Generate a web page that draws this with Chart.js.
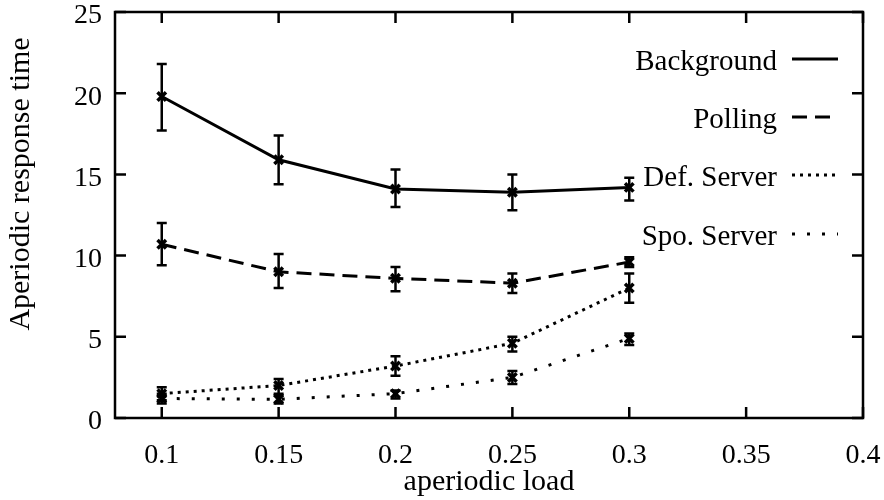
<!DOCTYPE html>
<html>
<head>
<meta charset="utf-8">
<script src="https://cdn.jsdelivr.net/npm/chart.js@4.4.1/dist/chart.umd.min.js"></script>
<style>
  html, body { margin: 0; padding: 0; background: #fff; }
  #wrap { width: 884px; height: 500px; }
</style>
</head>
<body>
<div id="wrap"><canvas id="chart" width="884" height="500"></canvas></div>
<script>
// aperiodic load values
const loads = [0.1, 0.15, 0.2, 0.25, 0.3];
const xTicks = [0.1, 0.15, 0.2, 0.25, 0.3, 0.35, 0.4];
const yTicks = [0, 5, 10, 15, 20, 25];

const seriesNames = ['Background', 'Polling', 'Def. Server', 'Spo. Server'];

const background = [19.8, 15.9, 14.1, 13.9, 14.2];
const backgroundLow = [17.7, 14.4, 13.0, 12.8, 13.4];
const backgroundHigh = [21.8, 17.4, 15.3, 15.0, 14.8];

const polling = [10.7, 9.0, 8.6, 8.3, 9.6];
const pollingLow = [9.4, 8.0, 7.8, 7.7, 9.3];
const pollingHigh = [12.0, 10.1, 9.3, 8.9, 9.9];

const defServer = [1.5, 2.0, 3.2, 4.6, 8.0];
const defServerLow = [1.1, 1.4, 2.6, 4.1, 7.1];
const defServerHigh = [1.9, 2.4, 3.8, 5.0, 8.9];

const spoServer = [1.2, 1.15, 1.5, 2.5, 4.9];
const spoServerLow = [0.9, 0.9, 1.2, 2.1, 4.5];
const spoServerHigh = [1.5, 1.5, 1.7, 2.9, 5.2];

const yTitle = 'Aperiodic response time';

const FONT = '"Liberation Serif", "Times New Roman", serif';
const FSIZE = 28;

function pts(ys) {
    return loads.map((x, i) => ({ x: x, y: ys[i] }));
}

const dashes = [[], [15, 8], [3, 5], [3, 12]];

const datasets = [
    { label: seriesNames[0], data: pts(background), low: backgroundLow, high: backgroundHigh },
    { label: seriesNames[1], data: pts(polling), low: pollingLow, high: pollingHigh },
    { label: seriesNames[2], data: pts(defServer), low: defServerLow, high: defServerHigh },
    { label: seriesNames[3], data: pts(spoServer), low: spoServerLow, high: spoServerHigh }
].map((d, i) => Object.assign(d, {
    borderColor: '#000',
    backgroundColor: '#000',
    borderWidth: 3,
    borderDash: dashes[i],
    pointStyle: 'crossRot',
    pointRadius: 6,
    pointBorderWidth: 3.5,
    pointBorderColor: '#000',
    tension: 0,
    fill: false
}));

// error bars drawn from the low/high arrays through the scales
const errorBars = {
    id: 'errorBars',
    afterDatasetsDraw(chart) {
        const ctx = chart.ctx;
        const xs = chart.scales.x, ys = chart.scales.y;
        ctx.save();
        ctx.strokeStyle = '#000';
        ctx.lineWidth = 2.5;
        ctx.setLineDash([]);
        chart.data.datasets.forEach(ds => {
            ds.data.forEach((p, i) => {
                const px = xs.getPixelForValue(p.x);
                const y1 = ys.getPixelForValue(ds.low[i]);
                const y2 = ys.getPixelForValue(ds.high[i]);
                ctx.beginPath();
                ctx.moveTo(px, y1); ctx.lineTo(px, y2);
                ctx.moveTo(px - 5, y1); ctx.lineTo(px + 5, y1);
                ctx.moveTo(px - 5, y2); ctx.lineTo(px + 5, y2);
                ctx.stroke();
            });
        });
        ctx.restore();
    }
};

// gnuplot style frame with inward ticks on all sides, plus the y title
const frame = {
    id: 'frame',
    afterDraw(chart) {
        const ctx = chart.ctx;
        const a = chart.chartArea;
        const xs = chart.scales.x, ys = chart.scales.y;
        const len = 11;
        ctx.save();
        ctx.strokeStyle = '#000';
        ctx.lineWidth = 2.5;
        ctx.setLineDash([]);
        ctx.strokeRect(a.left, a.top, a.right - a.left, a.bottom - a.top);
        ctx.beginPath();
        xTicks.forEach(v => {
            const px = xs.getPixelForValue(v);
            ctx.moveTo(px, a.bottom); ctx.lineTo(px, a.bottom - len);
            ctx.moveTo(px, a.top); ctx.lineTo(px, a.top + len);
        });
        yTicks.forEach(v => {
            const py = ys.getPixelForValue(v);
            ctx.moveTo(a.left, py); ctx.lineTo(a.left + len, py);
            ctx.moveTo(a.right, py); ctx.lineTo(a.right - len, py);
        });
        ctx.stroke();

        ctx.translate(21, 184);
        ctx.rotate(-Math.PI / 2);
        ctx.font = '30px ' + FONT;
        ctx.fillStyle = '#000';
        ctx.textAlign = 'center';
        ctx.textBaseline = 'middle';
        ctx.fillText(yTitle, 0, 0);
        ctx.restore();
    }
};

// legend in the top right corner: label text, then a line sample
const keyLegend = {
    id: 'keyLegend',
    afterDraw(chart) {
        const ctx = chart.ctx;
        const textRight = 777, lineStart = 792, lineEnd = 838;
        const rows = [62, 120, 178, 237];
        ctx.save();
        ctx.font = '29px ' + FONT;
        ctx.fillStyle = '#000';
        ctx.textAlign = 'right';
        ctx.textBaseline = 'middle';
        chart.data.datasets.forEach((ds, i) => {
            const y = rows[i];
            ctx.fillText(ds.label, textRight, y);
            ctx.strokeStyle = '#000';
            ctx.lineWidth = 3;
            ctx.setLineDash(ds.borderDash);
            ctx.beginPath();
            ctx.moveTo(lineStart, y - 3);
            ctx.lineTo(lineEnd, y - 3);
            ctx.stroke();
        });
        ctx.restore();
    }
};

new Chart(document.getElementById('chart'), {
    type: 'line',
    data: { datasets: datasets },
    options: {
        responsive: false,
        animation: false,
        layout: { padding: 0 },
        plugins: {
            legend: { display: false },
            tooltip: { enabled: false }
        },
        scales: {
            x: {
                type: 'linear',
                min: 0.08,
                max: 0.4,
                afterBuildTicks: axis => { axis.ticks = xTicks.map(v => ({ value: v })); },
                afterFit: axis => {
                    axis.height = 82;
                    axis.paddingRight = 21;
                    axis.paddingLeft = 0;
                },
                grid: { display: false, drawTicks: false },
                border: { display: false },
                ticks: {
                    color: '#000',
                    font: { family: FONT, size: FSIZE },
                    padding: 21,
                    maxRotation: 0,
                    autoSkip: false,
                    callback: v => String(v)
                },
                title: {
                    display: true,
                    text: 'aperiodic load',
                    color: '#000',
                    font: { family: FONT, size: 30 },
                    padding: { top: 0, bottom: 0 }
                }
            },
            y: {
                min: 0,
                max: 25,
                afterBuildTicks: axis => { axis.ticks = yTicks.map(v => ({ value: v })); },
                afterFit: axis => {
                    axis.width = 115;
                    axis.paddingTop = 12;
                    axis.paddingBottom = 0;
                },
                grid: { display: false, drawTicks: false },
                border: { display: false },
                ticks: {
                    color: '#000',
                    font: { family: FONT, size: FSIZE },
                    padding: 13,
                    labelOffset: 4
                },
                title: { display: false }
            }
        }
    },
    plugins: [errorBars, frame, keyLegend]
});
</script>
</body>
</html>
